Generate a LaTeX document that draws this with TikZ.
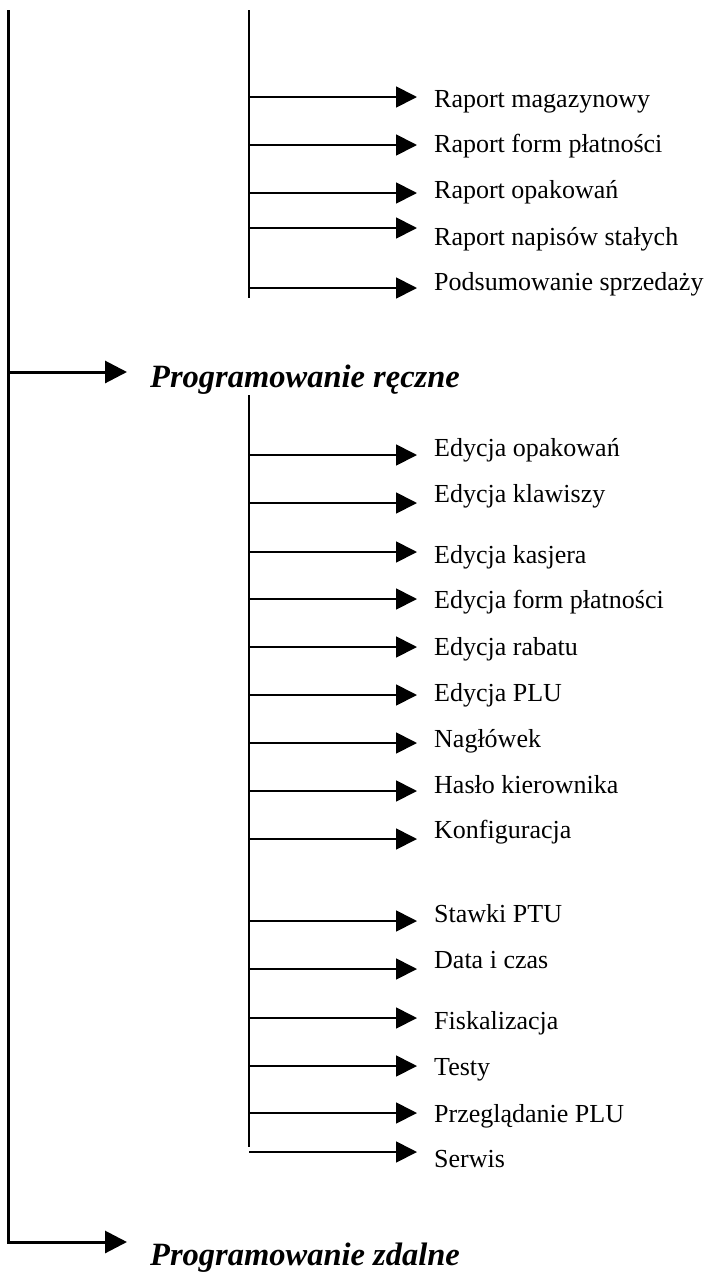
\documentclass[tikz,border=0pt]{standalone}
\usepackage{fontspec}
\setmainfont{Liberation Serif}
\usetikzlibrary{arrows.meta}
\begin{document}
\begin{tikzpicture}[x=1pt,y=-1pt,
  item/.style={anchor=base west, inner sep=0pt, font=\fontsize{26}{30}\selectfont},
  head/.style={anchor=base west, inner sep=0pt, font=\fontsize{32.5}{38}\selectfont\bfseries\itshape},
  spine/.style={line width=1.8pt},
  branch/.style={line width=1.8pt, -{Triangle[length=21pt,width=21pt]}},
  headarrow/.style={line width=3pt, -{Triangle[length=22pt,width=22pt]}}]
\useasboundingbox (0,0) rectangle (711,1272);
% headings
\node[head] (h1) at (150,387) {Programowanie ręczne};
\node[head] (h2) at (150,1265) {Programowanie zdalne};
% trunk
\coordinate (ttop) at (8,10);
\coordinate (j1) at (8,372);
\coordinate (h1tip) at (127,372);
\coordinate (h2tip) at (127,1242);
\draw[headarrow] (ttop) |- (h2tip);
\draw[headarrow] (j1) -- (h1tip);
% top group
\coordinate (s1top) at (249,10);
\coordinate (s1bot) at (249,298);
\draw[spine] (s1top) -- (s1bot);
\foreach \i/\ay/\by/\t in {1/97/107/Raport magazynowy,2/145/152/Raport form płatności,3/193/198/Raport opakowań,4/228/245/Raport napisów stałych,5/288/290/Podsumowanie sprzedaży}{
  \coordinate (ra\i) at (249,\ay);
  \node[item] (rt\i) at (434,\by) {\t};
  \draw[branch] (ra\i) -- ([xshift=-17pt]ra\i -| rt\i.west);
}
% bottom group
\coordinate (s2top) at (249,395);
\coordinate (s2bot) at (249,1147);
\draw[spine] (s2top) -- (s2bot);
\foreach \i/\ay/\by/\t in {1/455/456/Edycja opakowań,2/503/502/Edycja klawiszy,3/552/563/Edycja kasjera,4/599/608/Edycja form płatności,5/647/655/Edycja rabatu,6/695/701/Edycja PLU,7/743/747/Nagłówek,8/791/793/Hasło kierownika,9/839/838/Konfiguracja,10/921/922/Stawki PTU,11/969/968/Data i czas,12/1018/1029/Fiskalizacja,13/1066/1075/Testy,14/1113/1122/Przeglądanie PLU,15/1152/1167/Serwis}{
  \coordinate (ea\i) at (249,\ay);
  \node[item] (et\i) at (434,\by) {\t};
  \draw[branch] (ea\i) -- ([xshift=-17pt]ea\i -| et\i.west);
}
\end{tikzpicture}
\end{document}
